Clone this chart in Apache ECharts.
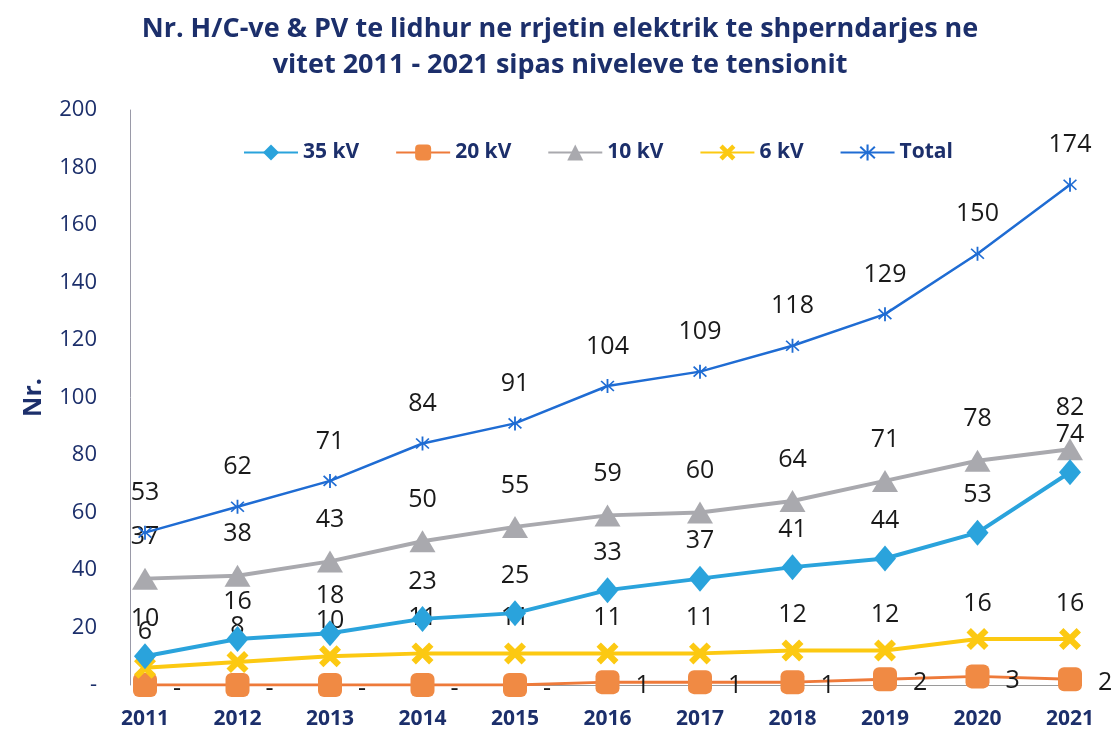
<!DOCTYPE html>
<html>
<head>
<meta charset="utf-8">
<script src="https://cdn.jsdelivr.net/npm/echarts@6/dist/echarts.min.js"></script>
<style>
  html, body { margin: 0; padding: 0; background: #fff; }
  #main { width: 1120px; height: 752px; }
</style>
</head>
<body>
<div id="main"></div>
<script>
var years = ['2011', '2012', '2013', '2014', '2015', '2016', '2017', '2018', '2019', '2020', '2021'];
var kv35 = [10, 16, 18, 23, 25, 33, 37, 41, 44, 53, 74];
var kv20 = [0, 0, 0, 0, 0, 1, 1, 1, 2, 3, 2];
var kv10 = [37, 38, 43, 50, 55, 59, 60, 64, 71, 78, 82];
var kv6 = [6, 8, 10, 11, 11, 11, 11, 12, 12, 16, 16];
var total = [53, 62, 71, 84, 91, 104, 109, 118, 129, 150, 174];

var navy = '#1c2f6b';
var font = 'Open Sans';
var crossPath = 'path://M2,0 L5,3 L8,0 L10,2 L7,5 L10,8 L8,10 L5,7 L2,10 L0,8 L3,5 L0,2 Z';
var starPath = 'path://M4.4,0 H5.6 V4.2 L8.8,1 L9.6,1.8 L6.4,5 L9.6,8.2 L8.8,9 L5.6,5.8 V10 H4.4 V5.8 L1.2,9 L0.4,8.2 L3.6,5 L0.4,1.8 L1.2,1 L4.4,4.2 Z';

// "-" for zero like the original
function dash(p) { return p.value === 0 ? '-' : p.value; }

var labelBase = { show: true, position: 'top', color: '#1a1a1a', fontSize: 25, fontFamily: font };

var myChart = echarts.init(document.getElementById('main'));

var option = {
    backgroundColor: '#fff',
    title: {
        text: 'Nr. H/C-ve & PV te lidhur ne rrjetin elektrik te shperndarjes ne\nvitet 2011 - 2021 sipas niveleve te tensionit',
        left: 'center',
        top: 6,
        itemGap: 0,
        textStyle: { color: navy, fontSize: 27, fontWeight: 'bold', fontFamily: font, lineHeight: 36 }
    },
    legend: {
        top: 137,
        left: 238,
        itemGap: 36,
        itemWidth: 54,
        itemHeight: 20,
        textStyle: { color: navy, fontSize: 21, fontWeight: 'bold', fontFamily: font },
        data: ['35 kV', '20 kV', '10 kV', '6 kV', 'Total']
    },
    grid: { left: 145, right: 50, top: 110, bottom: 67 },
    xAxis: {
        type: 'category',
        boundaryGap: false,
        data: years,
        axisLine: { lineStyle: { color: '#9a9a9a', width: 1 } },
        axisTick: { show: false },
        axisLabel: { color: navy, fontSize: 21, fontWeight: 'bold', fontFamily: font, margin: 24 }
    },
    yAxis: {
        type: 'value',
        min: 0,
        max: 200,
        interval: 20,
        offset: 15,
        name: 'Nr.',
        nameLocation: 'middle',
        nameGap: 84,
        nameTextStyle: { color: navy, fontSize: 25, fontWeight: 'bold', fontFamily: font },
        axisLine: { show: true, lineStyle: { color: '#9a9aa8', width: 1 } },
        axisTick: { show: false },
        splitLine: { show: false },
        axisLabel: {
            color: navy, fontSize: 22, fontFamily: font, margin: 33,
            formatter: function (v) { return v === 0 ? '-' : v; }
        }
    },
    series: [
        {
            name: '35 kV', type: 'line', data: kv35, z: 4,
            symbol: 'diamond', symbolSize: [22, 26],
            lineStyle: { color: '#2aa3dc', width: 4 },
            itemStyle: { color: '#2aa3dc' },
            label: Object.assign({}, labelBase, { distance: 12 })
        },
        {
            name: '20 kV', type: 'line', data: kv20, z: 3,
            symbol: 'roundRect', symbolSize: 24,
            lineStyle: { color: '#ee7a3a', width: 3 },
            itemStyle: { color: '#f08a44' },
            label: Object.assign({}, labelBase, { position: 'right', distance: 16, offset: [0, 4], formatter: dash })
        },
        {
            name: '10 kV', type: 'line', data: kv10, z: 2,
            symbol: 'triangle', symbolSize: [26, 22],
            lineStyle: { color: '#a9a9ae', width: 4 },
            itemStyle: { color: '#a9a9ae' },
            label: Object.assign({}, labelBase, { distance: 18 })
        },
        {
            name: '6 kV', type: 'line', data: kv6, z: 3,
            symbol: crossPath, symbolSize: 22,
            lineStyle: { color: '#fcc912', width: 4 },
            itemStyle: { color: '#fcc912' },
            label: Object.assign({}, labelBase, { distance: 12 })
        },
        {
            name: 'Total', type: 'line', data: total, z: 5,
            symbol: starPath, symbolSize: 14,
            lineStyle: { color: '#1f6cd3', width: 2.5 },
            itemStyle: { color: '#1f6cd3' },
            label: Object.assign({}, labelBase, { distance: 20 })
        }
    ]
};

myChart.setOption(option);
</script>
</body>
</html>
